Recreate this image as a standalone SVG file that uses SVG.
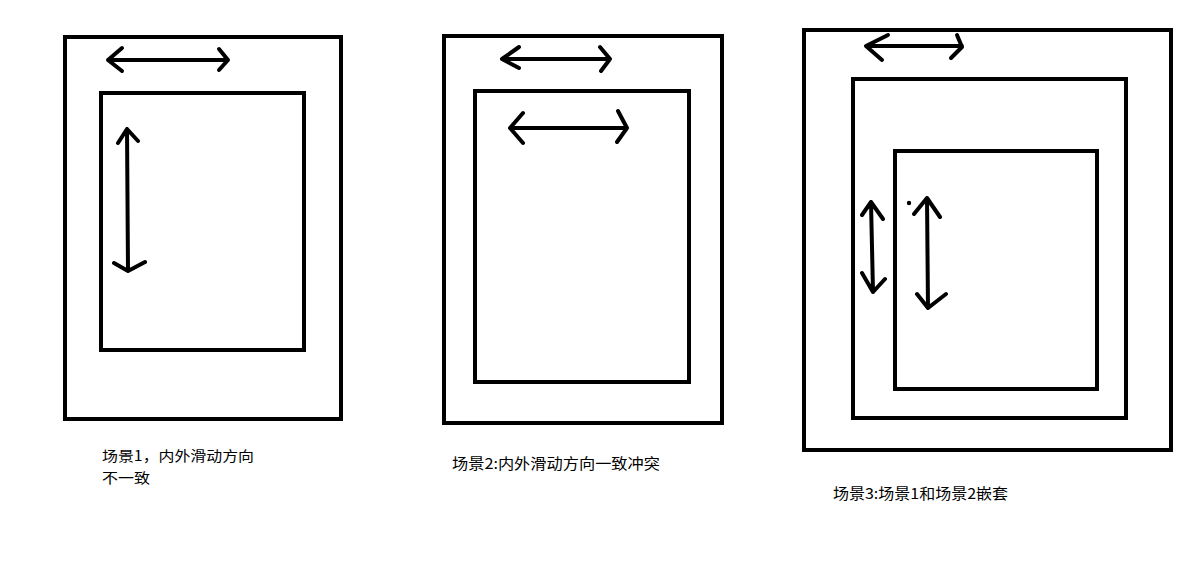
<svg xmlns="http://www.w3.org/2000/svg" width="1196" height="577" viewBox="0 0 1196 577">
<style>
.box{fill:none;stroke:#000;stroke-width:4}
.arr{fill:none;stroke:#000;stroke-width:4;stroke-linecap:round;stroke-linejoin:round}
.lbl{font-family:"Noto Sans CJK SC","Liberation Sans",sans-serif;font-size:15px;fill:#000}
.l1{font-size:14px}
</style>
<rect width="1196" height="577" fill="#fff"/>
<g id="scene1">
<rect class="box" x="65" y="37" width="276" height="382"/>
<rect class="box" x="101" y="93" width="203" height="257"/>
<text class="lbl l1" x="102" y="461" textLength="152" lengthAdjust="spacingAndGlyphs">场景1，内外滑动方向</text>
<text class="lbl l1" x="102" y="483" textLength="48" lengthAdjust="spacingAndGlyphs">不一致</text>
</g>
<g id="scene2">
<rect class="box" x="444" y="36" width="278" height="387"/>
<rect class="box" x="475" y="91" width="214" height="291"/>
<text class="lbl" x="452" y="469" textLength="208" lengthAdjust="spacingAndGlyphs">场景2:内外滑动方向一致冲突</text>
</g>
<g id="scene3">
<rect class="box" x="804" y="30" width="367" height="420"/>
<rect class="box" x="853" y="79" width="273" height="339"/>
<rect class="box" x="895" y="151" width="202" height="238"/>
<circle cx="909" cy="203" r="2.2" fill="#000"/>
<text class="lbl" x="833" y="499" textLength="175" lengthAdjust="spacingAndGlyphs">场景3:场景1和场景2嵌套</text>
</g>
<g id="connectors">
<path class="arr" d="M108,60 H228 M122,48 L108,60 L122,71 M219,49 L228,60 L219,70"/>
<path class="arr" d="M127,129 L128,271 M118,143 L127,129 L138,141 M114,263 L128,271 L145,262"/>
<path class="arr" d="M502,59 H610 M519,47 L502,59 L519,68 M600,47 L610,59 L601,71"/>
<path class="arr" d="M510,128 H627 M523,113 L510,128 L523,143 M618,111 L627,128 L617,142"/>
<path class="arr" d="M866,46 H962 M888,35 L866,46 L882,60 M957,35 L962,47 L951,58"/>
<path class="arr" d="M871,202 L873,292 M862,215 L871,202 L883,219 M862,273 L873,292 L885,279"/>
<path class="arr" d="M927,198 L928,308 M914,214 L927,198 L940,217 M917,294 L928,308 L946,294"/>
</g>
</svg>
